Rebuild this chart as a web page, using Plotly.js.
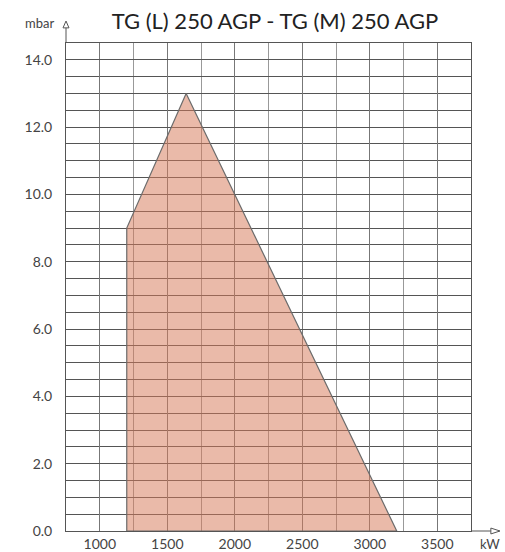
<!DOCTYPE html>
<html>
<head>
<meta charset="utf-8">
<script src="https://cdn.plot.ly/plotly-3.0.1.min.js"></script>
<style>html,body{margin:0;padding:0;background:#fff;}#chart{width:505px;height:552px;}</style>
</head>
<body>
<div id="chart"></div>
<script>
// Working field polygon (kW vs mbar)
var powerKW = [1200, 1200, 1640, 3200, 1200];
var pressureMbar = [0, 9.0, 13.0, 0, 0];
var xTickVals = [1000, 1500, 2000, 2500, 3000, 3500];
var yTickVals = [0, 2, 4, 6, 8, 10, 12, 14];
var titleText = 'TG (L) 250 AGP - TG (M) 250 AGP';
var xUnit = 'kW';
var yUnit = 'mbar';

var trace = {
  x: powerKW,
  y: pressureMbar,
  type: 'scatter',
  mode: 'lines',
  fill: 'toself',
  fillcolor: 'rgba(214,122,90,0.52)',
  line: {color: '#6b6b6b', width: 1.2},
  hoverinfo: 'skip',
  showlegend: false
};

var tickFont = {family: 'Lato, "Open Sans", sans-serif', size: 14, color: '#444'};

var layout = {
  width: 505,
  height: 552,
  margin: {l: 66, r: 34, t: 43, b: 21, pad: 0},
  paper_bgcolor: '#fff',
  plot_bgcolor: '#fff',
  title: {
    text: titleText,
    x: 0.516, xanchor: 'center', xref: 'paper',
    y: 0.962, yanchor: 'middle', yref: 'container',
    font: {family: 'Lato, "Open Sans", sans-serif', size: 22, color: '#222'}
  },
  xaxis: {
    range: [750, 3750],
    tickvals: xTickVals,
    ticktext: xTickVals.map(String),
    showgrid: true, gridcolor: '#777', gridwidth: 1,
    minor: {dtick: 250, tick0: 750, showgrid: true, gridcolor: '#999', gridwidth: 1, ticks: ''},
    showline: true, linecolor: '#555', linewidth: 1, mirror: true,
    zeroline: false, ticks: '', ticklen: 0,
    tickfont: tickFont, fixedrange: true
  },
  yaxis: {
    range: [0, 14.5],
    tickvals: yTickVals,
    ticktext: yTickVals.map(function(v){return v.toFixed(1);}),
    showgrid: true, gridcolor: '#555', gridwidth: 1,
    minor: {dtick: 0.5, tick0: 0, showgrid: true, gridcolor: '#555', gridwidth: 1, ticks: ''},
    showline: true, linecolor: '#555', linewidth: 1, mirror: true,
    zeroline: false, ticks: '', ticklen: 0,
    ticklabelstandoff: 10,
    tickfont: tickFont, fixedrange: true
  },
  annotations: [
    {text: yUnit, xref: 'paper', yref: 'paper', x: -0.025, y: 1.04, xanchor: 'right', yanchor: 'middle',
     showarrow: false, font: {family: 'Lato, "Open Sans", sans-serif', size: 13, color: '#444'}},
    {text: xUnit, xref: 'paper', yref: 'paper', x: 1.047, y: -0.026, xanchor: 'center', yanchor: 'middle',
     showarrow: false, font: {family: 'Lato, "Open Sans", sans-serif', size: 13, color: '#444'}}
  ],
  shapes: [
    {type: 'line', xref: 'paper', yref: 'paper', x0: 0, x1: 0, y0: 1, y1: 1.031, line: {color: '#555', width: 1}},
    {type: 'path', xref: 'paper', yref: 'paper', path: 'M -0.0074,1.031 L 0,1.045 L 0.0074,1.031 Z', line: {color: '#555', width: 1}, fillcolor: '#fff'},
    {type: 'line', xref: 'paper', yref: 'paper', x0: 1, x1: 1.049, y0: 0, y1: 0, line: {color: '#555', width: 1}},
    {type: 'path', xref: 'paper', yref: 'paper', path: 'M 1.049,-0.006 L 1.0716,0 L 1.049,0.006 Z', line: {color: '#555', width: 1}, fillcolor: '#fff'}
  ]
};

Plotly.newPlot('chart', [trace], layout, {displayModeBar: false, staticPlot: true});
</script>
</body>
</html>
